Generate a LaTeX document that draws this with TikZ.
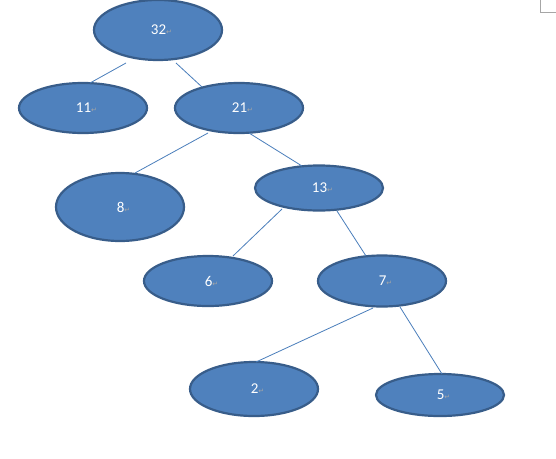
\documentclass[tikz,border=0pt]{standalone}
\usepackage{fontspec}
\setmainfont{Carlito}
\newfontfamily\symfont{DejaVu Sans}
\usetikzlibrary{shapes.geometric}
\definecolor{nodefill}{HTML}{4F81BD}
\definecolor{nodeedge}{HTML}{385D8A}
\definecolor{edgeline}{HTML}{4A7EBB}
\newcommand{\pmark}{{\symfont\fontsize{7}{7}\selectfont\textcolor{gray!70}{↵}}}
\tikzset{
  treenode/.style={ellipse, draw=nodeedge, fill=nodefill, line width=2.2pt, inner sep=0pt,
    minimum width=128pt, text=white, font=\fontsize{15}{15}\selectfont},
  treeedge/.style={draw=edgeline, line width=0.8pt}
}
\begin{document}
\begin{tikzpicture}[x=1pt,y=-1pt]
\useasboundingbox (0,0) rectangle (556,458);
\fill[white] (0,0) rectangle (556,458);
\draw[gray!70, line width=0.8pt] (540,0) -- (540,12) -- (556,12);
\node[treenode, minimum height=60pt] (n32) at (158,30) {\kern7pt 32\pmark};
\node[treenode, minimum height=50pt] (n11) at (83,108) {\kern7pt 11\pmark};
\node[treenode, minimum height=50pt] (n21) at (239,108) {\kern7pt 21\pmark};
\node[treenode, minimum height=68pt] (n8) at (120,207) {\kern7pt 8\pmark};
\node[treenode, minimum height=45pt] (n13) at (319,188) {\kern7pt 13\pmark};
\node[treenode, minimum height=50pt] (n6) at (208,281) {\kern7pt 6\pmark};
\node[treenode, minimum height=51pt] (n7) at (382,281) {\kern7pt 7\pmark};
\node[treenode, minimum height=54pt] (n2) at (254,389) {\kern7pt 2\pmark};
\node[treenode, minimum height=42pt] (n5) at (440,395) {\kern7pt 5\pmark};
\draw[treeedge] ([shift={(-32,33)}]n32.center) -- ([shift={(7,-25)}]n11.center);
\draw[treeedge] ([shift={(18,33)}]n32.center) -- ([shift={(-37,-21)}]n21.center);
\draw[treeedge] ([shift={(-31,25)}]n21.center) -- ([shift={(15,-34)}]n8.center);
\draw[treeedge] ([shift={(10,25)}]n21.center) -- ([shift={(-17,-22)}]n13.center);
\draw[treeedge] ([shift={(-37,21)}]n13.center) -- ([shift={(25,-25)}]n6.center);
\draw[treeedge] ([shift={(18,23)}]n13.center) -- ([shift={(-16,-25)}]n7.center);
\draw[treeedge] ([shift={(-9,27)}]n7.center) -- ([shift={(2,-27)}]n2.center);
\draw[treeedge] ([shift={(18,26)}]n7.center) -- ([shift={(2,-21)}]n5.center);
\end{tikzpicture}
\end{document}
